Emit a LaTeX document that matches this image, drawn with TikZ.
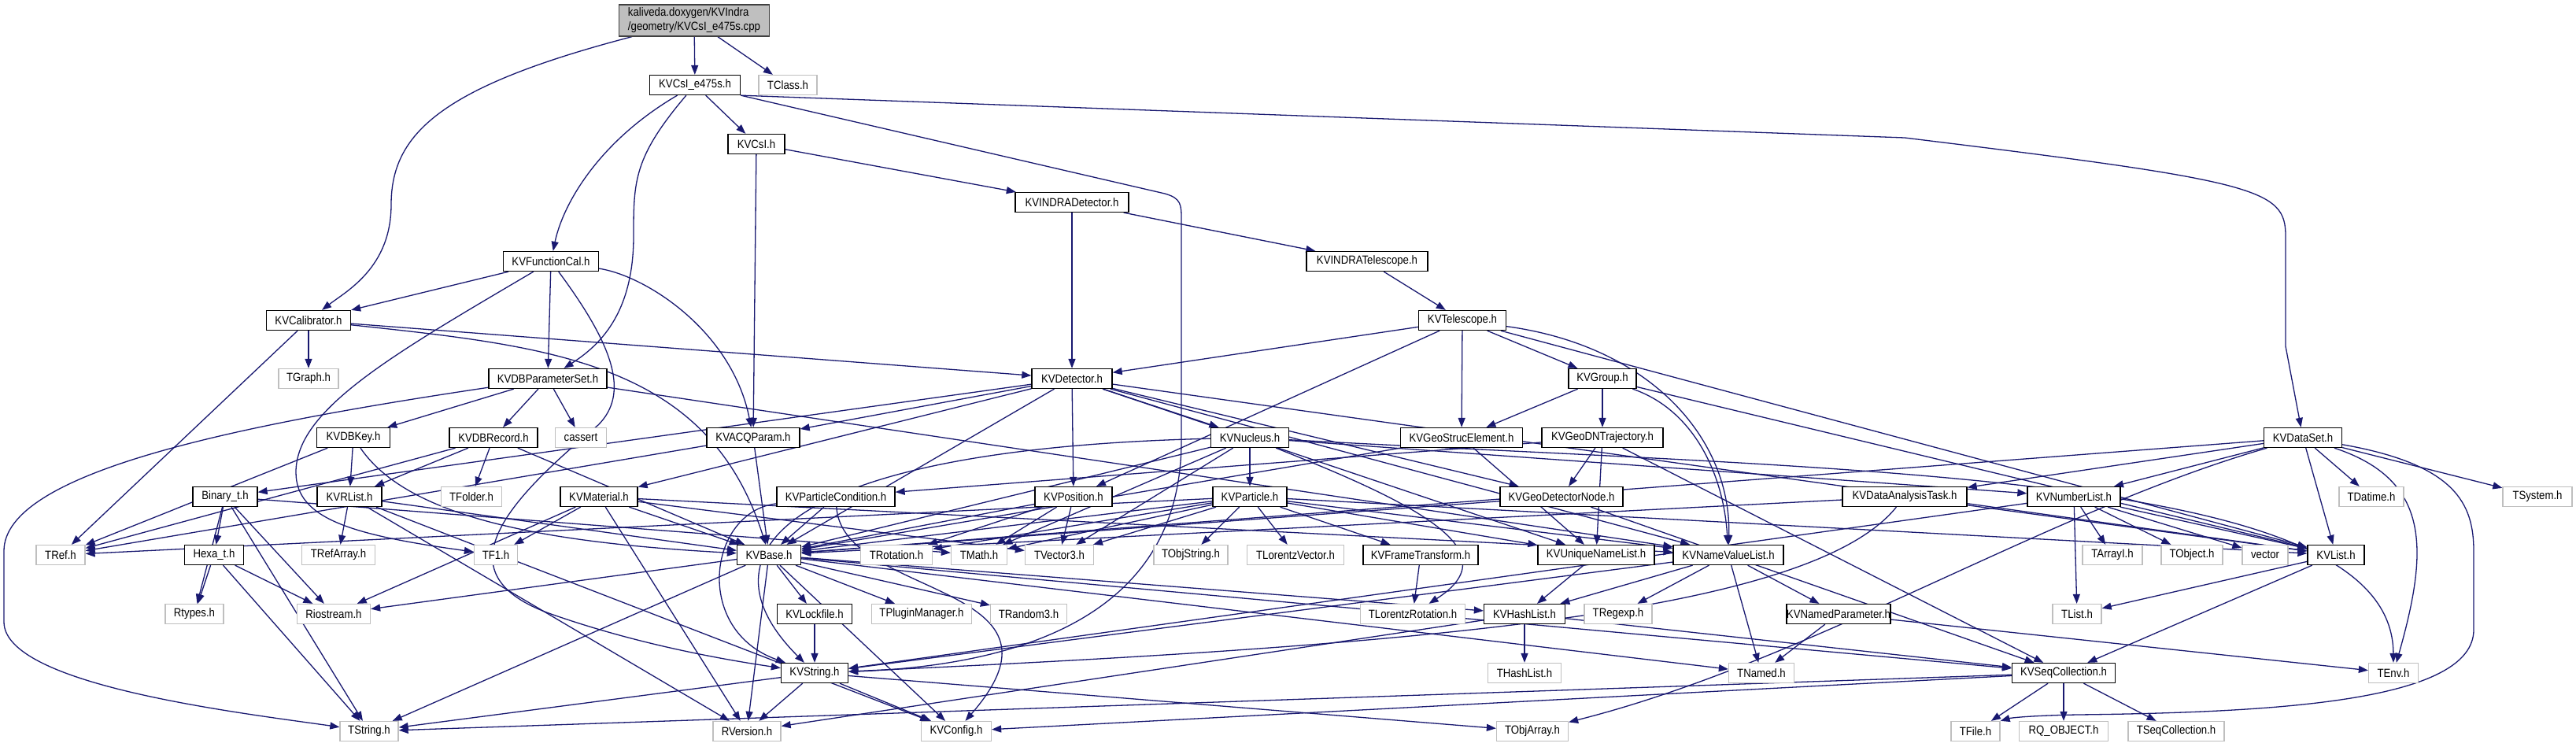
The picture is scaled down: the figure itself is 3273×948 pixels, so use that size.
\documentclass[tikz,border=0pt]{standalone}
\usepackage{fontspec}
\setmainfont{Liberation Sans}[FakeStretch=0.88]
\usetikzlibrary{arrows.meta}
\definecolor{edgec}{RGB}{25,25,112}
\definecolor{sysgray}{RGB}{191,191,191}
\pgfdeclarelayer{bg}
\pgfsetlayers{bg,main}
\tikzset{
  box/.style={fill=white, minimum height=25pt, inner sep=0pt, font=\fontsize{15}{17}\selectfont},
  kv/.style={box, draw=black, line width=1.3pt},
  sys/.style={box, draw=sysgray, line width=1.3pt},
  e/.style={draw=edgec, line width=1.3pt, -{Triangle[length=12pt,width=9pt]}}
}
\begin{document}
\begin{tikzpicture}[x=1pt,y=-1pt]
\useasboundingbox (0,0) rectangle (3273,948);
% main
\node[draw=black!75, fill=sysgray, line width=1.3pt, minimum width=191pt, minimum height=40pt, inner sep=2pt, align=left, font=\fontsize{15}{18}\selectfont] (M) at (882,26) {kaliveda.doxygen/KVIndra\\/geometry/KVCsI\_e475s.cpp};
% KV nodes
\node[kv, minimum width=115pt] (E) at (883,108) {KVCsI\_e475s.h};
\node[sys, minimum width=74pt] (TClass) at (1001,108) {TClass.h};
\node[kv, minimum width=72pt] (CsI) at (961,183) {KVCsI.h};
\node[kv, minimum width=144pt] (INDet) at (1362,257) {KVINDRADetector.h};
\node[kv, minimum width=121pt] (FC) at (700,332) {KVFunctionCal.h};
\node[kv, minimum width=154pt] (INTel) at (1737,332) {KVINDRATelescope.h};
\node[kv, minimum width=107pt] (CAL) at (392,407) {KVCalibrator.h};
\node[kv, minimum width=111pt] (Tel) at (1858,407) {KVTelescope.h};
\node[sys, minimum width=76pt] (TGraph) at (392,481) {TGraph.h};
\node[kv, minimum width=150pt] (PS) at (696,481) {KVDBParameterSet.h};
\node[kv, minimum width=102pt] (Det) at (1362,481) {KVDetector.h};
\node[kv, minimum width=86pt] (Grp) at (2036,481) {KVGroup.h};
\node[kv, minimum width=93pt] (DBKey) at (449,556) {KVDBKey.h};
\node[kv, minimum width=112pt] (DBRec) at (627,556) {KVDBRecord.h};
\node[sys, minimum width=65pt] (cassert) at (738,556) {cassert};
\node[kv, minimum width=118pt] (ACQ) at (957,556) {KVACQParam.h};
\node[kv, minimum width=99pt] (Nuc) at (1588,556) {KVNucleus.h};
\node[kv, minimum width=155pt] (GSE) at (1857,556) {KVGeoStrucElement.h};
\node[kv, minimum width=154pt] (GDN) at (2036,556) {KVGeoDNTrajectory.h};
\node[kv, minimum width=99pt] (DataSet) at (2926,556) {KVDataSet.h};
\node[kv, minimum width=82pt] (Bin) at (286,631) {Binary\_t.h};
\node[kv, minimum width=82pt] (RList) at (444,631) {KVRList.h};
\node[sys, minimum width=77pt] (TFolder) at (599,631) {TFolder.h};
\node[kv, minimum width=98pt] (Mat) at (761,631) {KVMaterial.h};
\node[kv, minimum width=150pt] (PC) at (1062,631) {KVParticleCondition.h};
\node[kv, minimum width=98pt] (Pos) at (1364,631) {KVPosition.h};
\node[kv, minimum width=94pt] (Part) at (1588,631) {KVParticle.h};
\node[kv, minimum width=156pt] (GDNode) at (1984,631) {KVGeoDetectorNode.h};
\node[kv, minimum width=158pt] (DAT) at (2420,631) {KVDataAnalysisTask.h};
\node[kv, minimum width=118pt] (NL) at (2635,631) {KVNumberList.h};
\node[sys, minimum width=82pt] (TDatime) at (3013,631) {TDatime.h};
\node[sys, minimum width=88pt] (TSystem) at (3224,631) {TSystem.h};
\node[sys, minimum width=62pt] (TRef) at (77,705) {TRef.h};
\node[kv, minimum width=75pt] (Hexa) at (272,705) {Hexa\_t.h};
\node[sys, minimum width=93pt] (TRefArray) at (430,705) {TRefArray.h};
\node[sys, minimum width=55pt] (TF1) at (630,705) {TF1.h};
\node[kv, minimum width=81pt] (Base) at (977,705) {KVBase.h};
\node[sys, minimum width=91pt] (TRot) at (1139,705) {TRotation.h};
\node[sys, minimum width=71pt] (TMath) at (1244,705) {TMath.h};
\node[sys, minimum width=87pt] (TVec) at (1346,705) {TVector3.h};
\node[sys, minimum width=94pt] (TObjStr) at (1513,705) {TObjString.h};
\node[sys, minimum width=123pt] (TLV) at (1646,705) {TLorentzVector.h};
\node[kv, minimum width=146pt] (FT) at (1805,705) {KVFrameTransform.h};
\node[kv, minimum width=148pt] (UNL) at (2028,705) {KVUniqueNameList.h};
\node[kv, minimum width=140pt] (NVL) at (2196,705) {KVNameValueList.h};
\node[sys, minimum width=76pt] (TArrayI) at (2684,705) {TArrayI.h};
\node[sys, minimum width=78pt] (TObject) at (2785,705) {TObject.h};
\node[sys, minimum width=58pt] (vector) at (2878,705) {vector};
\node[kv, minimum width=72pt] (List) at (2968,705) {KVList.h};
\node[sys, minimum width=74pt] (Rtypes) at (247,780) {Rtypes.h};
\node[sys, minimum width=93pt] (Rio) at (424,780) {Riostream.h};
\node[kv, minimum width=95pt] (Lock) at (1035,780) {KVLockfile.h};
\node[sys, minimum width=127pt] (TPM) at (1171,780) {TPluginManager.h};
\node[sys, minimum width=97pt] (TRand) at (1307,780) {TRandom3.h};
\node[sys, minimum width=133pt] (TLR) at (1795,780) {TLorentzRotation.h};
\node[kv, minimum width=103pt] (HL) at (1937,780) {KVHashList.h};
\node[sys, minimum width=86pt] (TRegexp) at (2056,780) {TRegexp.h};
\node[kv, minimum width=121pt] (NP) at (2336,780) {KVNamedParameter.h};
\node[sys, minimum width=62pt] (TList) at (2639,780) {TList.h};
\node[kv, minimum width=85pt] (Str) at (1035,855) {KVString.h};
\node[sys, minimum width=93pt] (THL) at (1937,855) {THashList.h};
\node[sys, minimum width=83pt] (TNamed) at (2238,855) {TNamed.h};
\node[kv, minimum width=131pt] (SeqC) at (2622,855) {KVSeqCollection.h};
\node[sys, minimum width=63pt] (TEnv) at (3041,855) {TEnv.h};
\node[sys, minimum width=74pt] (TString) at (469,929) {TString.h};
\node[sys, minimum width=86pt] (RVer) at (949,929) {RVersion.h};
\node[sys, minimum width=89pt] (Conf) at (1215,929) {KVConfig.h};
\node[sys, minimum width=91pt] (TOA) at (1947,929) {TObjArray.h};
\node[sys, minimum width=62pt] (TFile) at (2510,929) {TFile.h};
\node[sys, minimum width=113pt] (RQ) at (2622,929) {RQ\_OBJECT.h};
\node[sys, minimum width=122pt] (TSC) at (2765,929) {TSeqCollection.h};

\begin{pgfonlayer}{bg}
% curved routes
\draw[e] (M) .. controls (560,110) and (497,170) .. (497,260) .. controls (497,340) and (440,370) .. (CAL);
\draw[e] (E) .. controls (760,180) and (715,260) .. (FC);
\draw[e] (E) .. controls (805,200) and (805,230) .. (805,300) .. controls (805,400) and (760,440) .. (PS);
\draw[e] (E.south east) -- (1480,246) .. controls (1501,252) and (1501,260) .. (1501,280) -- (1501,560) .. controls (1501,780) and (1300,845) .. (Str);
\draw[e] (E.south east) -- (2420,175) .. controls (2870,230) and (2904,240) .. (2904,300) -- (2904,440) -- (DataSet);
\draw[e] (PS) .. controls (300,540) and (5,600) .. (5,700) -- (5,790) .. controls (5,870) and (300,905) .. (TString);
\draw[e] (DataSet) .. controls (3120,590) and (3143,640) .. (3143,700) -- (3143,800) .. controls (3143,890) and (2900,905) .. (2640,908) .. controls (2580,909) and (2555,912) .. (TFile.north east);
\draw[e] (DataSet) .. controls (3090,610) and (3085,700) .. (TEnv);
\draw[e] (Nuc) .. controls (2400,600) and (3040,600) .. (TEnv);
\draw[e] (FC) .. controls (820,350) and (930,420) .. (ACQ);
\draw[e] (FC) .. controls (500,450) and (376,520) .. (376,600) .. controls (376,660) and (450,680) .. (TF1);
\draw[e] (FC) .. controls (780,440) and (800,500) .. (760,540) .. controls (640,640) and (560,730) .. (700,780) .. controls (800,815) and (900,835) .. (Str);
\draw[e] (CAL) .. controls (700,440) and (900,460) .. (Base);
\draw[e] (Tel) .. controls (2100,440) and (2200,560) .. (NVL);
\draw[e] (Grp) .. controls (2150,520) and (2190,600) .. (NVL);
\draw[e] (Nuc) .. controls (1800,640) and (1920,700) .. (TLR);
\draw[e] (PC) .. controls (900,650) and (880,800) .. (Str);
\draw[e] (Nuc) .. controls (1000,570) and (880,700) .. (Str);
\draw[e] (PC) .. controls (1070,760) and (1380,740) .. (Conf);
\draw[e] (DAT) .. controls (2300,780) and (1800,820) .. (Str);
\draw[e] (DataSet) .. controls (2600,650) and (2300,840) .. (TOA);
\draw[e] (DBKey) .. controls (520,660) and (700,690) .. (Base);
% straight edges
\foreach \a/\b in {M/E, M/TClass, E/CsI, CsI/INDet, CsI/ACQ, INDet/Det, INDet/INTel, INTel/Tel,
  FC/CAL, FC/PS, CAL/TGraph, CAL/TRef, CAL/Det,
  Tel/Det, Tel/Pos, Tel/GSE, Tel/Grp, Tel/List,
  PS/DBKey, PS/DBRec, PS/cassert, PS/NVL,
  Det/ACQ, Det/Mat, Det/Bin, Det/Pos, Det/Nuc, Det/GDNode, Det/Base, Det/NVL, Det/List, Det/UNL,
  Grp/GSE, Grp/GDN, Grp/List,
  DBKey/RList, DBKey/TRef, DBRec/RList, DBRec/TFolder, DBRec/TRef, DBRec/Base,
  ACQ/Base, ACQ/TRef,
  Nuc/Part, Nuc/Base, Nuc/TVec, Nuc/NL, Nuc/TMath,
  GSE/UNL, GSE/Base, GDN/GDNode, GDN/UNL, GDN/SeqC, GDN/PC,
  Bin/Hexa, Bin/Rio, Bin/Rtypes, Bin/TString, Bin/TMath,
  RList/TRefArray, RList/RVer, RList/Base, RList/Conf,
  Mat/TF1, Mat/Rio, Mat/Base, Mat/RVer, Mat/TVec, Mat/NVL,
  PC/Base, Pos/Base, Pos/TMath, Pos/TVec, Pos/TRot,
  Part/TObjStr, Part/TLV, Part/FT, Part/UNL, Part/NVL, Part/TVec, Part/TMath, Part/TRot, Part/Base, Part/List, Part/TRef,
  GDNode/Base, GDNode/SeqC, DAT/Base, DAT/List,
  NL/TArrayI, NL/TObject, NL/vector, NL/List, NL/TList, NL/Str,
  Hexa/Rtypes, Hexa/Rio, Hexa/TString,
  Base/Lock, Base/TPM, Base/TRand, Base/Rio, Base/TString, Base/RVer, Base/HL, Base/TNamed, Base/SeqC, Base/Conf,
  FT/TLR, UNL/HL, NVL/HL, NVL/TRegexp, NVL/NP, NVL/TNamed, NVL/Str,
  List/SeqC, List/TList, Lock/Str, HL/THL, HL/SeqC, HL/RVer, NP/TNamed, NP/TEnv,
  Str/TString, Str/RVer, Str/Conf, Str/TOA,
  SeqC/TFile, SeqC/RQ, SeqC/TSC, SeqC/TString, SeqC/Conf,
  DataSet/DAT, DataSet/NL, DataSet/List, DataSet/TDatime, DataSet/TSystem, DataSet/Base}
  \draw[e] (\a) -- (\b);
\end{pgfonlayer}
\end{tikzpicture}
\end{document}
